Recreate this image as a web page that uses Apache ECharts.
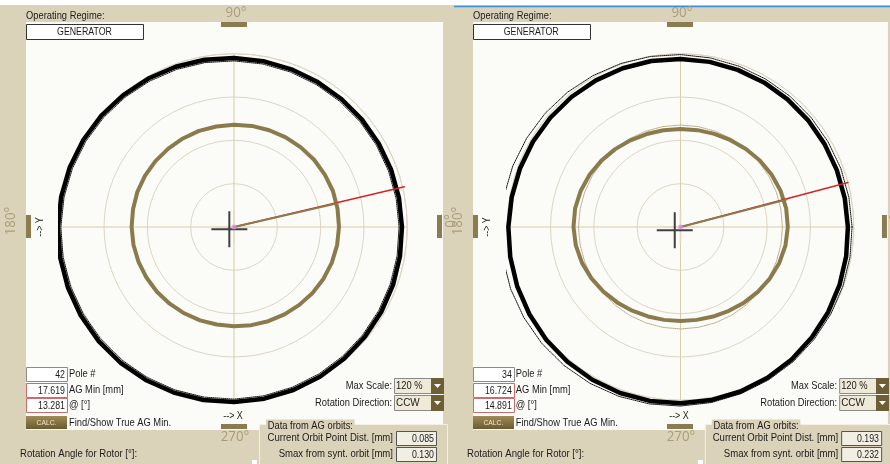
<!DOCTYPE html>
<html><head><meta charset="utf-8">
<script src="https://cdn.jsdelivr.net/npm/echarts@6/dist/echarts.min.js"></script>
<style>html,body{margin:0;padding:0;background:#fff;overflow:hidden}#c{width:890px;height:464px}</style>
</head><body><div id="c"></div>
<script>
// ---- data (radius in % of scale, 120 = max scale; angle in degrees, CCW from +X) ----
const angles = [0,10,20,30,40,50,60,70,80,90,100,110,120,130,140,150,160,170,180,190,200,210,220,230,240,250,260,270,280,290,300,310,320,330,340,350];
const statorA = [116.3,116.0,115.8,115.7,115.7,115.7,115.9,116.2,116.6,117.0,117.6,118.1,118.7,119.3,119.9,120.5,121.0,121.5,121.9,122.2,122.4,122.5,122.6,122.5,122.3,122.0,121.6,121.2,120.7,120.1,119.5,118.9,118.3,117.7,117.2,116.7];
const synthStatorA = [114.3,114.0,113.8,113.7,113.7,113.7,113.9,114.2,114.6,115.0,115.6,116.1,116.7,117.3,117.9,118.5,119.0,119.5,119.9,120.2,120.4,120.5,120.6,120.5,120.3,120.0,119.6,119.2,118.7,118.1,117.5,116.9,116.3,115.7,115.2,114.7];
const rotorA = [72.7,72.8,72.9,72.6,72.4,72.0,71.7,71.3,71.1,70.8,70.7,70.8,70.8,70.8,71.0,71.1,71.2,71.0,70.9,70.7,70.4,70.0,69.7,69.3,69.0,68.8,68.6,68.8,69.0,69.4,69.9,70.4,71.0,71.6,72.1,72.5];
const statorB = [115.9,115.5,115.2,115.1,115.2,115.3,115.6,115.8,116.1,116.4,116.7,117.0,117.2,117.5,117.7,118.0,118.3,118.7,119.2,119.7,120.3,120.8,121.4,121.8,122.1,122.3,122.3,122.1,121.7,121.2,120.5,119.7,118.8,118.0,117.2,116.5];
const synthStatorB = [118.8,118.4,118.2,118.0,118.0,118.1,118.2,118.5,118.9,119.4,119.9,120.5,121.1,121.8,122.4,123.0,123.6,124.1,124.6,124.9,125.2,125.3,125.4,125.3,125.1,124.8,124.4,124.0,123.4,122.8,122.2,121.6,120.9,120.3,119.7,119.2];
const rotorB = [74.3,74.3,73.7,72.8,71.7,70.5,69.4,68.6,68.1,67.9,68.0,68.5,69.3,70.4,71.5,72.6,73.5,74.1,74.1,73.6,72.6,71.2,69.7,68.2,66.9,65.9,65.3,65.1,65.3,66.0,67.0,68.4,69.9,71.4,72.8,73.8];
const synthRotorB = [70.6,70.6,70.6,70.6,70.6,70.6,70.6,70.6,70.6,70.6,70.6,70.6,70.6,70.6,70.6,70.6,70.6,70.6,70.6,70.6,70.6,70.6,70.6,70.6,70.6,70.6,70.6,70.6,70.6,70.6,70.6,70.6,70.6,70.6,70.6,70.6];
const agMinAngle = [13.281, 14.891];
const agLineEnd = [121.2, 120.0];
const rotorLineEnd = [73.4, 75.8];
const statorCenter = [[3.6, 206], [4.6, 210]];
const radiusTicks = [0, 30, 60, 90, 120];
const angleTicks = ['0°', '90°', '180°', '270°'];
const regime = ['GENERATOR', 'GENERATOR'];
const poleNo = ['42', '34'];
const agMin = ['17.619', '16.724'];
const agAt = ['13.281', '14.891'];
const maxScale = ['120 %', '120 %'];
const rotDir = ['CCW', 'CCW'];
const orbitDist = ['0.085', '0.193'];
const smaxSynt = ['0.130', '0.232'];

const BEIGE = '#dbd2ba', PLOT = '#fbfbf8', BAR = '#8b7b4f', TAN = '#ab9d7a', GOLD = '#8b7b4c';
const FONT = "'Liberation Sans',Arial,sans-serif";
const RMAX = radiusTicks[radiusTicks.length-1];
const CX = [234, 680.5], CY = 227, RPX = 173.3;

// polar value -> cartesian value (same units); the axes do the pixel mapping
function xy(r, a){ const t = a*Math.PI/180; return [r*Math.cos(t), r*Math.sin(t)]; }
function closed(vals){ const d = vals.map((v,i)=>xy(v, angles[i])); d.push(d[0]); return d; }

const chart = echarts.init(document.getElementById('c'), null, {renderer:'canvas'});

const polar = CX.map(cx=>({center:[cx,CY], radius:RPX}));
const angleAxis = [0,1].map(p=>({polarIndex:p, type:'value', min:0, max:360, interval:90, startAngle:0, clockwise:false,
  axisLine:{show:true, lineStyle:{color:'#ddd6c3', width:1}}, axisTick:{show:false}, axisLabel:{show:false},
  splitLine:{show:true, lineStyle:{color:'#d8cea9', width:1}}}));
const radiusAxis = [0,1].map(p=>({polarIndex:p, type:'value', min:radiusTicks[0], max:RMAX, interval:radiusTicks[1]-radiusTicks[0],
  axisLine:{show:false}, axisTick:{show:false}, axisLabel:{show:false},
  splitLine:{show:true, lineStyle:{color:'#ddd6c3', width:1}}}));
const grid = CX.map(cx=>({left:cx-RPX, top:CY-RPX, width:2*RPX, height:2*RPX, containLabel:false}));
const xAxis = [0,1].map(p=>({gridIndex:p, type:'value', min:-RMAX, max:RMAX, show:false}));
const yAxis = [0,1].map(p=>({gridIndex:p, type:'value', min:-RMAX, max:RMAX, show:false}));

const plus = 'path://M0,17L36,17L36,19L0,19Z M17,0L19,0L19,36L17,36Z';
function panelSeries(p, stator, synthStator, rotor, synthRotor){
  const s = [];
  const base = {xAxisIndex:p, yAxisIndex:p, silent:true, animation:false, clip:false};
  const L = (data, ls, z) => Object.assign({type:'line', data:data, showSymbol:false, symbol:'none', smooth:false, lineStyle:Object.assign({join:'round', cap:'round'}, ls), z:z}, base);
  s.push(L(closed(synthStator), {color:'#111', width:1, type:'dotted'}, 3));
  s.push(L(closed(stator), {color:'#000', width:4.5}, 4));
  if (synthRotor) s.push(L(closed(synthRotor), {color:'#b9ac84', width:1, type:'dotted'}, 3));
  s.push(L(closed(rotor), {color:GOLD, width:4}, 5));
  s.push(L([[0,0], xy(agLineEnd[p], agMinAngle[p])], {color:'#d42424', width:1.5}, 6));
  s.push(L([[0,0], xy(rotorLineEnd[p], agMinAngle[p]-0.4)], {color:GOLD, width:2}, 6));
  s.push(Object.assign({type:'scatter', data:[[0,0]], symbol:plus, symbolSize:[34,34], itemStyle:{color:'#e6dcc0'}, z:5}, base));
  s.push(Object.assign({type:'scatter', data:[xy(statorCenter[p][0], statorCenter[p][1])], symbol:plus, symbolSize:[36,36], itemStyle:{color:'#111'}, z:7}, base));
  s.push(Object.assign({type:'scatter', data:[[0,0]], symbol:'circle', symbolSize:5, itemStyle:{color:'#e58fe0'}, z:8}, base));
  return s;
}
const series = panelSeries(0, statorA, synthStatorA, rotorA, null)
  .concat(panelSeries(1, statorB, synthStatorB, rotorB, synthRotorB));

// ---- UI chrome ----
const G = [];
function X(p, x){ return p===0 ? x : 473 + (x-26)*0.995; }
function txt(x,y,text,o){ o=o||{}; G.push({type:'text', x:x, y:y, rotation:o.rot||0, scaleX:o.sx||0.85, z:100,
  style:{text:text, fill:o.fill||'#1b1b1b', font:(o.size||11)+'px '+(o.family||FONT),
    textAlign:o.align||'left', align:o.align||'left', textVerticalAlign:'middle', verticalAlign:'middle',
    backgroundColor:o.bg, padding:o.pad}}); }
function rect(x,y,w,h,fill,stroke,z){ G.push({type:'rect', z:z===undefined?90:z, shape:{x:x,y:y,width:w,height:h},
  style:{fill:fill, stroke:stroke||null, lineWidth:1}}); }
const ANG = {size:14, fill:TAN, family:"'Open Sans',sans-serif", sx:0.95, align:'center'};

G.push({type:'rect', z:-100, shape:{x:0,y:5,width:890,height:459}, style:{fill:BEIGE}});
G.push({type:'line', z:-90, shape:{x1:454,y1:6.5,x2:890,y2:6.5}, style:{stroke:'#3f8fd6', lineWidth:1.5}});

for (let p=0;p<2;p++){
  const x0 = X(p,26), x1 = X(p,443);
  G.push({type:'rect', z:-80, shape:{x:x0,y:22,width:x1-x0,height:408}, style:{fill:PLOT}});
  txt(X(p,26), 16, 'Operating Regime:');
  rect(X(p,26)+0.5, 24.5, 117, 15, '#ffffff', '#333');
  txt(X(p,84.5), 32, regime[p], {align:'center', sx:0.8});
  // angle markers
  txt(X(p,236), 13, angleTicks[1], ANG);
  rect(X(p,221), 22, 26, 5, BAR, null);
  txt(X(p,11), 221, angleTicks[2], Object.assign({rot:Math.PI/2}, ANG));
  rect(X(p,26), 215, 5, 23, BAR, null);
  txt(X(p,40), 227, '--> Y', {align:'center', size:10.5, rot:Math.PI/2});
  rect(X(p,437), 215, 5, 23, BAR, null);
  txt(X(p,451), 221, angleTicks[0], Object.assign({rot:Math.PI/2}, ANG));
  txt(X(p,233), 416, '--> X', {align:'center', size:10.5});
  rect(X(p,221), 424, 26, 5, BAR, null);
  txt(X(p,235), 437, angleTicks[3], ANG);
  // left info boxes
  rect(X(p,26)+0.5, 367.5, 41, 14, '#ffffff', '#8a8a8a');
  txt(X(p,65), 375, poleNo[p], {align:'right', sx:0.8});
  txt(X(p,69), 374, 'Pole #');
  rect(X(p,26)+0.5, 383.5, 41, 14, '#ffffff', '#cf6b6b');
  txt(X(p,65), 391, agMin[p], {align:'right', sx:0.8});
  txt(X(p,69), 390, 'AG Min [mm]');
  rect(X(p,26)+0.5, 398.5, 41, 14, '#ffffff', '#cf6b6b');
  txt(X(p,65), 406, agAt[p], {align:'right', sx:0.8});
  txt(X(p,69), 405, '@ [°]');
  G.push({type:'rect', z:90, shape:{x:X(p,26), y:416, width:41, height:13},
    style:{fill:new echarts.graphic.LinearGradient(0,0,0,1,[{offset:0,color:'#a08c58'},{offset:1,color:'#6a5a30'}])}});
  txt(X(p,46.5), 423, 'CALC.', {align:'center', size:8, fill:'#efe6cc'});
  txt(X(p,69), 423, 'Find/Show True AG Min.');
  // right dropdowns
  txt(X(p,392), 386, 'Max Scale:', {align:'right'});
  rect(X(p,394)+0.5, 378.5, 37, 15, '#efe9d8', '#8a8a8a');
  txt(X(p,396), 386, maxScale[p], {sx:0.85});
  rect(X(p,431), 378, 13, 16, '#6e5e36', null);
  G.push({type:'polygon', z:95, shape:{points:[[X(p,434),384],[X(p,441),384],[X(p,437.5),388]]}, style:{fill:'#fff'}});
  txt(X(p,392), 403, 'Rotation Direction:', {align:'right'});
  rect(X(p,394)+0.5, 395.5, 37, 15, '#efe9d8', '#8a8a8a');
  txt(X(p,396), 403, rotDir[p], {sx:0.9});
  rect(X(p,431), 395, 13, 16, '#6e5e36', null);
  G.push({type:'polygon', z:95, shape:{points:[[X(p,434),401],[X(p,441),401],[X(p,437.5),405]]}, style:{fill:'#fff'}});
  // group box
  rect(X(p,259)+0.5, 424.5, X(p,447)-X(p,259), 45, BEIGE, '#f3efe4', 85);
  txt(X(p,266), 426, 'Data from AG orbits:', {bg:BEIGE, pad:[1,2]});
  txt(X(p,393), 438, 'Current Orbit Point Dist. [mm]', {align:'right', sx:0.87});
  rect(X(p,396)+0.5, 431.5, 40, 14, '#f2eee3', '#555');
  txt(X(p,434), 439, orbitDist[p], {align:'right', sx:0.8});
  txt(X(p,393), 454, 'Smax from synt. orbit [mm]', {align:'right', sx:0.87});
  rect(X(p,396)+0.5, 447.5, 40, 14, '#f2eee3', '#555');
  txt(X(p,434), 455, smaxSynt[p], {align:'right', sx:0.8});
  txt(X(p,20), 454, 'Rotation Angle for Rotor [°]:', {sx:0.87});
  rect(X(p,252), 460, 5, 4, '#ffffff', null);
}

chart.setOption({
  animation:false,
  backgroundColor:'#ffffff',
  polar: polar, angleAxis: angleAxis, radiusAxis: radiusAxis,
  grid: grid, xAxis: xAxis, yAxis: yAxis,
  series: series,
  graphic: {elements: G}
});
</script></body></html>
